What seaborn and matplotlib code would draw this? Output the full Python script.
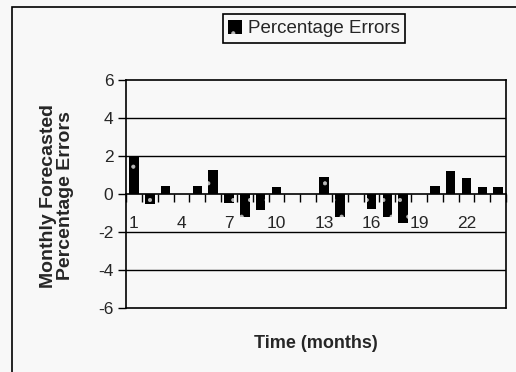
import matplotlib
matplotlib.use("Agg")
import matplotlib.pyplot as plt
import seaborn as sns
import numpy as np
import pandas as pd
from matplotlib.patches import Rectangle, Patch
from matplotlib.ticker import FixedLocator, NullFormatter

# ---- data ----
months = list(range(1, 25))
errors = [2.0, -0.5, 0.4, 0.0, 0.4, 1.25, -0.45, -1.2, -0.85, 0.35, 0.0, 0.0,
          0.9, -1.2, 0.0, -0.8, -1.2, -1.55, 0.0, 0.4, 1.2, 0.85, 0.35, 0.35]
y_ticks = [-6, -4, -2, 0, 2, 4, 6]
x_label_months = [1, 4, 7, 10, 13, 16, 19, 22]
series_name = "Percentage Errors"

sns.set_theme(style="white")
plt.rcParams['font.family'] = ['Liberation Sans', 'DejaVu Sans']
plt.rcParams['hatch.linewidth'] = 0.5

BG = "#f8f8f8"
W, H = 516, 372
fig = plt.figure(figsize=(W / 100, H / 100), dpi=100, facecolor=BG)
ax = fig.add_axes([126 / W, 1 - 308 / H, 380 / W, 228 / H])
ax.set_facecolor(BG)

df = pd.DataFrame({"month": months, "error": errors})
sns.barplot(data=df, x="month", y="error", color="black", saturation=1,
            width=0.6, ax=ax, zorder=3)
for p in ax.patches:
    p.set_facecolor("black")
    p.set_edgecolor("#bbbbbb")
    p.set_hatch(".")
    p.set_linewidth(0)

ax.set_xlim(-0.5, len(months) - 0.5)
ax.set_ylim(-6, 6)

# gridlines
for yv in y_ticks:
    if yv not in (0, -6, 6):
        ax.axhline(yv, color="black", lw=1.0, zorder=1)

# border of plot area
for s in ["top", "left", "right"]:
    ax.spines[s].set_visible(True)
    ax.spines[s].set_color("black")
    ax.spines[s].set_linewidth(1.2)
ax.axhline(-6, color="black", lw=1.2, zorder=4, clip_on=False)

# x axis at zero
ax.spines["bottom"].set_position(("data", 0))
ax.spines["bottom"].set_color("black")
ax.spines["bottom"].set_linewidth(1.2)
ax.spines["bottom"].set_zorder(5)

ax.set_yticks(y_ticks)
ax.set_yticklabels([str(v) for v in y_ticks], fontsize=12.5)
ax.tick_params(axis="y", direction="out", length=6, width=1, color="black",
               pad=3, left=True)

boundaries = [i - 0.5 for i in range(len(months) + 1)]
ax.xaxis.set_major_locator(FixedLocator(boundaries))
ax.xaxis.set_major_formatter(NullFormatter())
label_pos = [months.index(m) for m in x_label_months]
ax.xaxis.set_minor_locator(FixedLocator(label_pos))
ax.set_xticklabels([str(m) for m in x_label_months], minor=True, fontsize=12.5)
ax.tick_params(axis="x", which="major", direction="out", length=6, width=1,
               color="black", bottom=True)
ax.tick_params(axis="x", which="minor", length=0, pad=16, bottom=True)

ax.set_xlabel("")
ax.set_ylabel("")
fig.text(316 / W, 1 - 343 / H, "Time (months)", ha="center", va="center",
         fontsize=13, fontweight="bold")
fig.text(57 / W, 1 - 196 / H, "Monthly Forecasted\nPercentage Errors",
         ha="center", va="center", rotation=90, fontsize=14,
         fontweight="bold", linespacing=1.05)

handle = Patch(facecolor="black", edgecolor="#bbbbbb", hatch=".", lw=0)
leg = fig.legend([handle], [series_name], loc="center",
                 bbox_to_anchor=(314 / W, 1 - 28.5 / H), fontsize=13.5,
                 frameon=True, fancybox=False, edgecolor="black",
                 facecolor=BG, framealpha=1, handlelength=0.75,
                 handleheight=0.75, handletextpad=0.3, borderpad=0.3,
                 borderaxespad=0)
leg.get_frame().set_linewidth(1.2)

# outer chart border
fig.add_artist(Rectangle((12 / W, -0.2), 2.0, (H - 7) / H + 0.2,
                         transform=fig.transFigure, fill=False,
                         edgecolor="black", lw=1.2))

fig.savefig("out.png", dpi=100, facecolor=BG)
